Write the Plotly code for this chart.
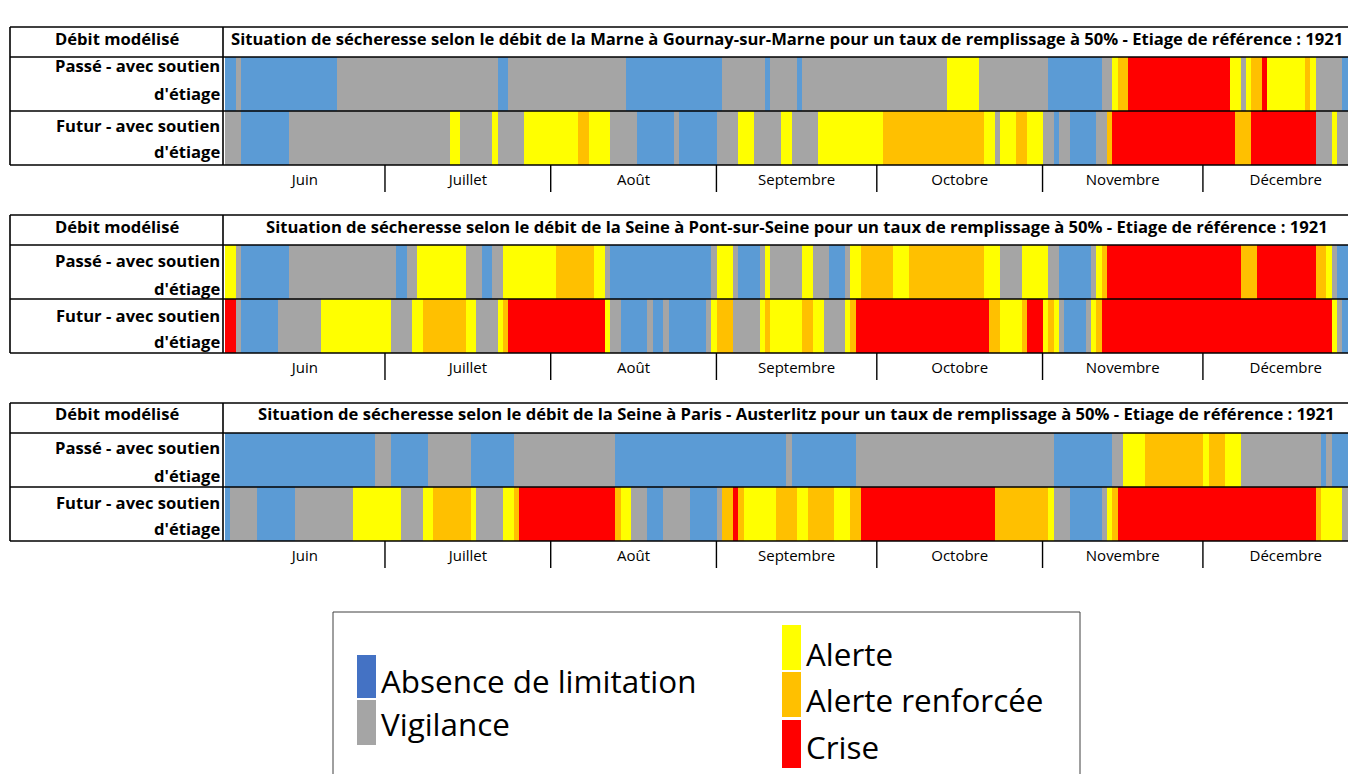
import plotly.graph_objects as go

W, H = 1348, 774
FONT = "Open Sans"

# ---------------- data ----------------
months = ["Juin", "Juillet", "Août", "Septembre", "Octobre", "Novembre", "Décembre"]
month_days = [30, 31, 31, 30, 31, 30, 31]
END_DAY = sum(month_days)  # 1 juin -> 31 décembre

state_names = {"B": "Absence de limitation", "G": "Vigilance", "Y": "Alerte",
               "O": "Alerte renforcée", "R": "Crise"}
state_colors = {"B": "#5B9BD5", "G": "#A5A5A5", "Y": "#FFFF00", "O": "#FFC000", "R": "#FF0000"}
legend_colors = {"B": "#4472C4", "G": "#A5A5A5", "Y": "#FFFF00", "O": "#FFC000", "R": "#FF0000"}

titles = [
    "Situation de sécheresse selon le débit de la Marne à Gournay-sur-Marne pour un taux de remplissage à 50% - Etiage de référence : 1921",
    "Situation de sécheresse selon le débit de la Seine à Pont-sur-Seine pour un taux de remplissage à 50% - Etiage de référence : 1921",
    "Situation de sécheresse selon le débit de la Seine à Paris - Austerlitz pour un taux de remplissage à 50% - Etiage de référence : 1921",
]
row_labels = ["Passé - avec soutien<br>d'étiage", "Futur - avec soutien<br>d'étiage"]
col_header = "Débit modélisé"

# day on which each state run starts, and the state of each run
marne_passe_starts = [0, 2, 3, 21, 51, 53, 75, 93, 101, 102, 107, 108, 135, 141, 154, 164, 166, 167, 169,
                      188, 190, 191, 192, 194, 195, 202, 203, 204, 209]
marne_passe_states = "B G B G B G B G B G B G Y G B G Y O R Y G Y O R Y O Y G B".split()

marne_futur_starts = [0, 3, 12, 42, 44, 50, 51, 56, 66, 68, 72, 77, 84, 85, 92, 96, 99, 104, 106, 111,
                      123, 142, 144, 145, 148, 150, 153, 155, 156, 158, 163, 165, 166, 189, 192, 204, 207, 208]
marne_futur_states = "G B G Y G Y G Y O Y G B G B G Y G Y G Y O Y G Y O Y G B G B G O R O R G Y G".split()

pont_passe_starts = [0, 2, 3, 12, 32, 34, 36, 45, 48, 50, 52, 62, 69, 71, 72, 91, 92, 95, 96, 100,
                     101, 102, 108, 110, 113, 116, 117, 119, 125, 128, 142, 145, 149, 154, 156, 162, 163, 164, 165, 190,
                     193, 204, 206, 207, 208]
pont_passe_states = ("Y G B G B G Y G B G Y O Y G B G Y G B G Y G Y G B G Y O Y O "
                     "Y G Y G B G Y O R O R O Y G B").split()

pont_futur_starts = [0, 2, 3, 10, 18, 31, 35, 37, 45, 47, 51, 52, 53, 71, 72, 74, 79, 80, 82, 83,
                     90, 91, 92, 95, 100, 101, 102, 108, 110, 112, 116, 117, 118, 143, 145, 149, 150, 153, 154, 155,
                     156, 157, 161, 162, 163, 164, 207, 208, 209]
pont_futur_states = ("R G B G Y G Y O Y G Y O R Y G B G B G B G Y O G Y O Y O Y G "
                     "Y O R O Y O R Y O Y G B G Y O R Y G B").split()

paris_passe_starts = [0, 28, 31, 38, 46, 54, 73, 105, 106, 118, 155, 166, 168, 172, 183, 184, 187, 190, 205, 206, 207]
paris_passe_states = "B G B G B G B G B G B G Y O Y O Y G B G B".split()

paris_futur_starts = [0, 1, 6, 13, 24, 33, 37, 39, 46, 47, 52, 54, 55, 73, 74, 76, 79, 82, 87, 92,
                      93, 95, 96, 97, 103, 107, 109, 114, 117, 119, 144, 154, 155, 158, 164, 165, 166, 167, 204, 205,
                      209]
paris_futur_states = ("B G B G Y G Y O Y G Y O R O Y G B G B G O R O Y O Y O Y O R "
                      "O Y G B G Y O R O Y G").split()

panels_data = [
    [(marne_passe_starts, marne_passe_states), (marne_futur_starts, marne_futur_states)],
    [(pont_passe_starts, pont_passe_states), (pont_futur_starts, pont_futur_states)],
    [(paris_passe_starts, paris_passe_states), (paris_futur_starts, paris_futur_states)],
]

# ---------------- layout geometry (pixels) ----------------
panel_tops = [27, 215, 403]
HEADER_H, ROW_H = 30, 54
LEFT_X, SPLIT_X = 10, 223
X0_PX, PX_PER_DAY = 224.6, 5.346
x_max_day = (W - X0_PX) / PX_PER_DAY
label_offsets = [[(8, 36), (14, 41)], [(16, 43), (16, 42)], [(15, 42), (15, 41)]]
HDR_SIZE, LBL_SIZE, MONTH_SIZE, LEG_SIZE = 16.6, 16.6, 15, 31.4


def fx(p):
    return p / W


def fy(p):
    return 1 - p / H


fig = go.Figure()
shapes, annotations = [], []

month_starts = [sum(month_days[:i]) for i in range(len(months))]
month_centers = [s + d / 2 for s, d in zip(month_starts, month_days)]
month_bounds = [s for s in month_starts[1:]]

line = dict(color="black", width=1.6)

for i, (top, pdata) in enumerate(zip(panel_tops, panels_data)):
    k = i + 1
    ax = "" if k == 1 else str(k)
    s_top = top + HEADER_H
    s_mid = s_top + ROW_H
    s_bot = s_mid + ROW_H

    for r, (starts, states) in enumerate(pdata):
        yval = 1 - r
        ends = starts[1:] + [END_DAY]
        for code in ["B", "G", "Y", "O", "R"]:
            idx = [j for j, s in enumerate(states) if s == code]
            if not idx:
                continue
            fig.add_trace(go.Bar(
                orientation="h",
                y=[yval] * len(idx),
                base=[starts[j] for j in idx],
                x=[ends[j] - starts[j] for j in idx],
                width=1,
                marker=dict(color=state_colors[code], line=dict(width=0)),
                name=state_names[code],
                showlegend=False,
                xaxis="x" + ax, yaxis="y" + ax,
                hovertemplate=state_names[code] + "<extra></extra>",
            ))

    fig.layout["xaxis" + ax] = dict(
        domain=[fx(X0_PX), 1], range=[0, x_max_day], anchor="y" + ax,
        tickvals=month_centers, ticktext=months, ticks="outside", ticklen=1,
        tickcolor="rgba(0,0,0,0)", showgrid=False, zeroline=False, showline=False,
        tickfont=dict(family=FONT, size=MONTH_SIZE, color="black"), fixedrange=True,
    )
    fig.layout["yaxis" + ax] = dict(
        domain=[fy(s_bot), fy(s_top)], range=[-0.5, 1.5], anchor="x" + ax,
        visible=False, fixedrange=True,
    )

    # table borders
    for yy in [top, s_top, s_mid, s_bot]:
        shapes.append(dict(type="line", xref="paper", yref="paper", x0=fx(LEFT_X), x1=1.01,
                           y0=fy(yy), y1=fy(yy), line=line))
    for xx in [LEFT_X, SPLIT_X]:
        shapes.append(dict(type="line", xref="paper", yref="paper", x0=fx(xx), x1=fx(xx),
                           y0=fy(top), y1=fy(s_bot), line=line))
    # month dividers
    for b in month_bounds:
        shapes.append(dict(type="line", xref="x" + ax, yref="paper", x0=b, x1=b,
                           y0=fy(s_bot), y1=fy(s_bot + 27), line=dict(color="black", width=1.4)))

    # texts
    annotations.append(dict(text="<b>" + col_header + "</b>", x=fx((LEFT_X + SPLIT_X) / 2), y=fy(top + 11),
                            xref="paper", yref="paper", showarrow=False, xanchor="center", yanchor="middle",
                            font=dict(family=FONT, size=HDR_SIZE, color="black")))
    title_center = (X0_PX + X0_PX + END_DAY * PX_PER_DAY) / 2
    if i == 0:
        # the longest title would run past the right edge: keep it fully visible
        t_x, t_anchor = fx(W - 3), "right"
    else:
        t_x, t_anchor = fx(title_center), "center"
    annotations.append(dict(text="<b>" + titles[i] + "</b>", x=t_x,
                            y=fy(top + 11), xref="paper", yref="paper", showarrow=False,
                            xanchor=t_anchor, yanchor="middle",
                            font=dict(family=FONT, size=HDR_SIZE, color="black")))
    for r, lab in enumerate(row_labels):
        row_top = s_top + r * ROW_H
        l1, l2 = lab.split("<br>")
        for txt, off in zip([l1, l2], label_offsets[i][r]):
            annotations.append(dict(text="<b>" + txt + "</b>", x=fx(SPLIT_X - 1), y=fy(row_top + off),
                                    xref="paper", yref="paper", showarrow=False,
                                    xanchor="right", yanchor="middle",
                                    font=dict(family=FONT, size=LBL_SIZE, color="black")))

# ---------------- legend box ----------------
shapes.append(dict(type="rect", xref="paper", yref="paper", x0=fx(333), x1=fx(1080), y0=fy(790), y1=fy(612),
                   line=dict(color="#404040", width=1)))
legend_items = [("B", 357, 655, 698, 379, 680), ("G", 357, 700, 745, 379, 723),
                ("Y", 782, 625, 670, 804, 653), ("O", 782, 672, 717, 804, 699), ("R", 782, 720, 768, 804, 746)]
for code, mx, my0, my1, tx, ty in legend_items:
    shapes.append(dict(type="rect", xref="paper", yref="paper", x0=fx(mx), x1=fx(mx + 19),
                       y0=fy(my1), y1=fy(my0), line=dict(width=0), fillcolor=legend_colors[code]))
    annotations.append(dict(text=state_names[code], x=fx(tx), y=fy(ty), xref="paper", yref="paper",
                            showarrow=False, xanchor="left", yanchor="middle",
                            font=dict(family=FONT, size=LEG_SIZE, color="black")))

fig.update_layout(
    width=W, height=H, margin=dict(l=0, r=0, t=0, b=0),
    paper_bgcolor="white", plot_bgcolor="white",
    barmode="overlay", bargap=0, showlegend=False,
    shapes=shapes, annotations=annotations,
)

fig.write_html("out.html", config={"displayModeBar": False},
               post_script="document.body.style.margin='0';document.body.style.overflow='hidden';")
